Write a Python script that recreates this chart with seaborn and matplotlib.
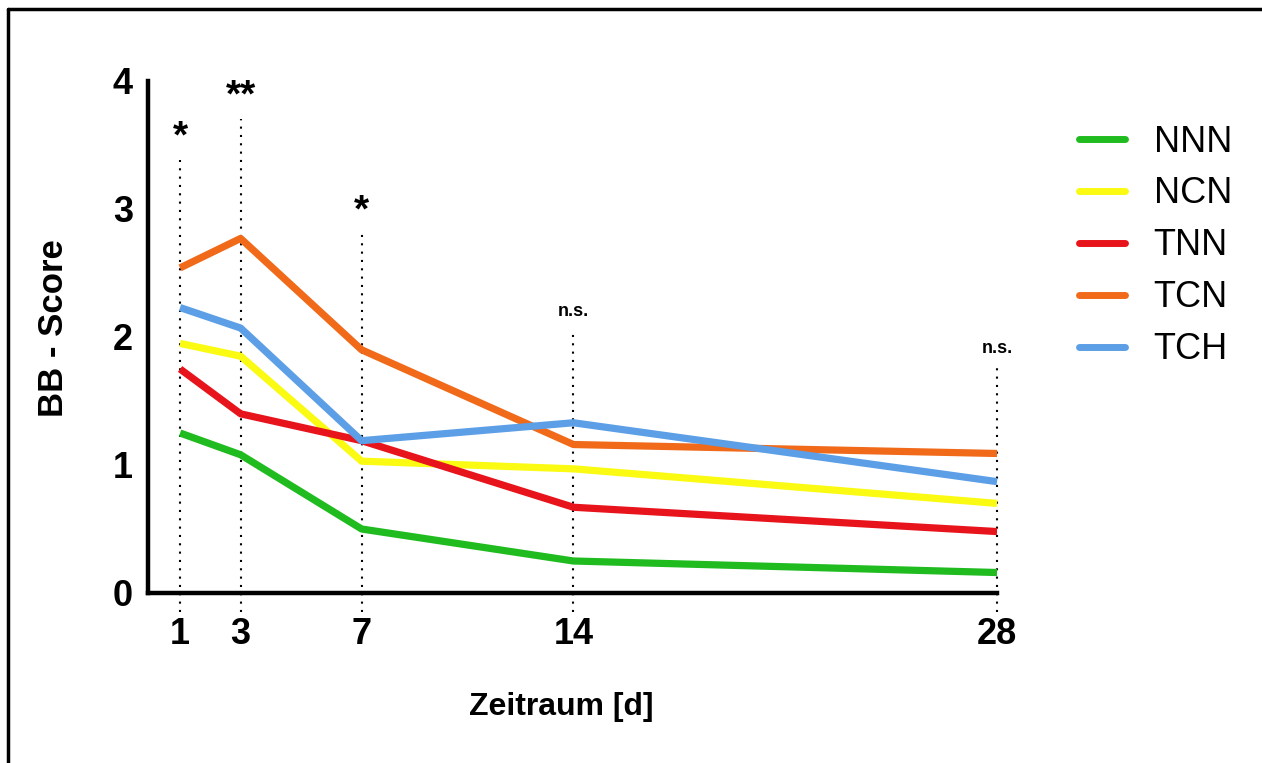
import matplotlib
matplotlib.use("Agg")
import matplotlib.pyplot as plt
from matplotlib.lines import Line2D
import seaborn as sns
import pandas as pd

days = [1, 3, 7, 14, 28]
groups = ["NNN", "NCN", "TNN", "TCN", "TCH"]
nnn = [1.25, 1.08, 0.50, 0.25, 0.16]
ncn = [1.95, 1.85, 1.03, 0.97, 0.70]
tnn = [1.75, 1.40, 1.19, 0.67, 0.48]
tcn = [2.54, 2.77, 1.90, 1.16, 1.09]
tch = [2.23, 2.07, 1.19, 1.33, 0.87]
colors = ["#1fbb1f", "#fafa12", "#e8141c", "#f06a1a", "#5c9fe6"]
sig_labels = ["*", "**", "*", "n.s.", "n.s."]
sig_line_top = [3.38, 3.70, 2.82, 2.02, 1.76]
sig_text_y = [3.56, 3.88, 2.98, 2.20, 1.91]

sns.set_theme(style="white")
plt.rcParams["font.family"] = ["Liberation Sans", "DejaVu Sans"]
for k in ["text.color", "axes.labelcolor", "xtick.color", "ytick.color"]:
    plt.rcParams[k] = "black"

rows = []
for g, vals in zip(groups, [nnn, ncn, tnn, tcn, tch]):
    for d, v in zip(days, vals):
        rows.append({"Zeitraum": d, "Score": v, "Gruppe": g})
df = pd.DataFrame(rows)

fig = plt.figure(figsize=(12.62, 7.63), dpi=100)
ax = fig.add_axes([148 / 1262, 1 - 593 / 763, (997 - 148) / 1262, (593 - 81) / 763])

# dotted significance lines
for d, top in zip(days, sig_line_top):
    ax.plot([d, d], [-0.15, top], ls=(0, (1, 3)), color="black", lw=1.5,
            clip_on=False, zorder=1)

sns.lineplot(data=df, x="Zeitraum", y="Score", hue="Gruppe", hue_order=groups,
             palette=colors, lw=5.2, ax=ax, legend=False, zorder=3)
for ln in ax.lines:
    ln.set_clip_on(False)
    ln.set_solid_capstyle("butt")

for d, lab, ty in zip(days, sig_labels, sig_text_y):
    if lab == "n.s.":
        ax.text(d, ty, lab, ha="center", va="center", fontsize=13, fontweight="bold")
    else:
        ax.text(d, ty, lab, ha="center", va="center", fontsize=28, fontweight="bold")

ax.set_xlim(-0.06, 28)
ax.set_ylim(0, 4)
ax.set_xticks(days)
ax.set_xticklabels([str(d) for d in days])
ax.set_yticks([0, 1, 2, 3, 4])
ax.tick_params(axis="both", which="major", direction="out", length=11, width=3.2,
               color="black", labelsize=26, pad=6)
ax.tick_params(axis="y", length=9, pad=2)
for lab in ax.get_xticklabels() + ax.get_yticklabels():
    lab.set_fontweight("bold")
sns.despine(ax=ax)
for s in ["left", "bottom"]:
    ax.spines[s].set_linewidth(3.2)
    ax.spines[s].set_color("black")
ax.set_xlabel("Zeitraum [d]", fontsize=23, fontweight="bold")
ax.set_ylabel("BB - Score", fontsize=25, fontweight="bold")
ax.xaxis.set_label_coords((561 - 148) / 849, (593 - 692) / 512)
ax.yaxis.set_label_coords((70 - 148) / 849, (593 - 328) / 512)

handles = [Line2D([0], [0], color=c, lw=5) for c in colors]
fig.legend(handles, groups, loc="upper left", bbox_to_anchor=(1046 / 1262, 1 - 92 / 763),
           frameon=False, fontsize=26, handlelength=1.3, handletextpad=0.78,
           labelspacing=0.47)

# outer frame (left and top only visible)
fig.add_artist(Line2D([8 / 1262, 8 / 1262], [0, 1 - 9 / 763], color="black", lw=2.5,
                      transform=fig.transFigure))
fig.add_artist(Line2D([8 / 1262, 1], [1 - 9 / 763, 1 - 9 / 763], color="black", lw=2.5,
                      transform=fig.transFigure))

fig.savefig("out.png", dpi=100)
